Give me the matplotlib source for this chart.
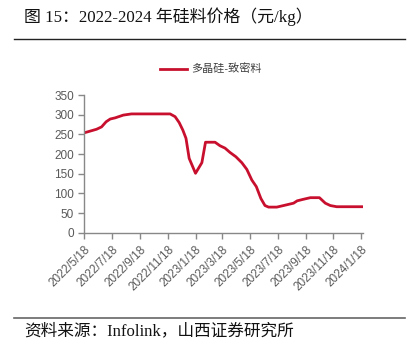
import matplotlib
matplotlib.use("Agg")
import matplotlib.pyplot as plt
import numpy as np

plt.rcParams['font.family'] = ['Liberation Sans', 'Noto Sans CJK SC']

# data
dates = ['2022-05-18', '2022-06-14', '2022-06-25', '2022-07-05', '2022-07-14',
         '2022-07-25', '2022-08-12', '2022-08-30', '2022-11-23', '2022-12-04',
         '2022-12-13', '2022-12-21', '2022-12-28', '2023-01-04', '2023-01-18',
         '2023-02-01', '2023-02-09', '2023-03-02', '2023-03-13', '2023-03-24',
         '2023-04-04', '2023-04-17', '2023-04-30', '2023-05-11', '2023-05-22',
         '2023-06-01', '2023-06-11', '2023-06-20', '2023-06-28', '2023-07-16',
         '2023-07-31', '2023-08-22', '2023-08-30', '2023-09-13', '2023-09-28',
         '2023-10-18', '2023-10-31', '2023-11-11', '2023-11-25', '2024-01-23']
price = [254, 263, 269, 282, 289, 292, 299, 302, 302, 295,
         280, 261, 240, 189, 151, 178, 230, 230, 221, 215,
         204, 193, 178, 161, 134, 117, 87, 69, 65, 65,
         69, 75, 81, 85, 89, 89, 75, 69, 66, 66]

tick_dates = ['2022-05-18', '2022-07-18', '2022-09-18', '2022-11-18', '2023-01-18',
              '2023-03-18', '2023-05-18', '2023-07-18', '2023-09-18', '2023-11-18',
              '2024-01-18']
tick_labels = ['2022/5/18', '2022/7/18', '2022/9/18', '2022/11/18', '2023/1/18',
               '2023/3/18', '2023/5/18', '2023/7/18', '2023/9/18', '2023/11/18',
               '2024/1/18']
series_name = '多晶硅-致密料'

x = np.array(dates, dtype='datetime64[D]')
xt = np.array(tick_dates, dtype='datetime64[D]')

fig = plt.figure(figsize=(4.17, 3.52), dpi=100)
ax = fig.add_axes([0.2022, 0.339, 0.6683, 0.391])

line_color = '#C8102E'
ax.plot(x, price, color=line_color, lw=2, label=series_name, solid_joinstyle='round')

ax.set_ylim(0, 350)
ax.set_yticks(range(0, 351, 50))
ax.set_xlim(np.datetime64('2022-05-18'), np.datetime64('2024-01-22'))
ax.set_xticks(xt)
ax.set_xticklabels(tick_labels, rotation=45, ha='right', va='top', rotation_mode='anchor')

grey = '#888888'
for s in ['top', 'right']:
    ax.spines[s].set_visible(False)
for s in ['left', 'bottom']:
    ax.spines[s].set_color(grey)
    ax.spines[s].set_linewidth(1)
ax.tick_params(colors=grey, labelcolor='#595959', labelsize=8.5, length=4, width=1)
ax.tick_params(axis='x', pad=4)

ax.legend(loc='center', bbox_to_anchor=(0.455, 1.189), frameon=False, fontsize=8,
          handlelength=2.4, handletextpad=0.4, labelcolor='#404040')

# header / footer
fig.text(24 / 417, 1 - 17 / 352, '图 15：2022-2024 年硅料价格（元/kg）',
         family=['Liberation Serif', 'Noto Sans CJK SC'], fontsize=12.2,
         va='center', ha='left', color='#111111')
fig.add_artist(plt.Line2D([14 / 417, 405 / 417], [1 - 39 / 352, 1 - 39 / 352],
                          color='#222222', lw=1))
fig.add_artist(plt.Line2D([14 / 417, 405 / 417], [1 - 318 / 352, 1 - 318 / 352],
                          color='#666666', lw=1.2))
fig.text(24 / 417, 1 - 331 / 352, '资料来源：Infolink，山西证券研究所',
         family=['Liberation Serif', 'Noto Sans CJK SC'], fontsize=12,
         va='center', ha='left', color='#111111')

fig.savefig('out.png', dpi=100)
